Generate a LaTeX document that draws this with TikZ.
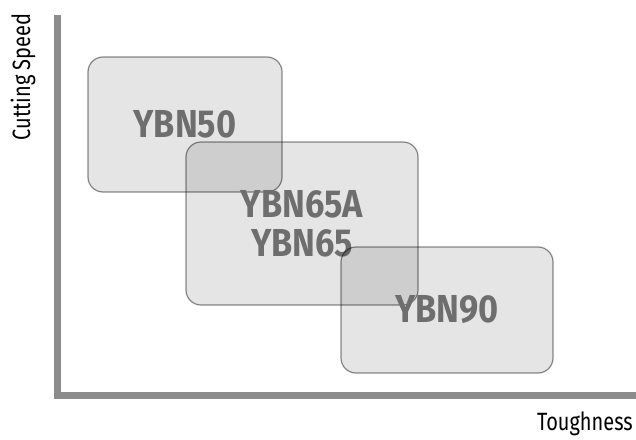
\documentclass[tikz,border=0pt]{standalone}
\usepackage{fontspec}
\setmainfont{Fira Sans}
\newfontfamily\axisfont[FakeStretch=0.8]{Fira Sans}
\newfontfamily\gradefont[FakeStretch=0.88]{Fira Sans}
\usepackage{tikz}
\usetikzlibrary{calc,positioning}

\tikzset{
  grade/.style={draw=black, draw opacity=0.45, fill=black, fill opacity=0.1,
    text opacity=1, text=black!57, rounded corners=15pt, line width=1.2pt,
    font=\gradefont\bfseries\fontsize{39}{39}\selectfont, align=center, inner sep=0pt},
  axisline/.style={draw=black!45, line width=7pt},
  axislabel/.style={font=\axisfont\fontsize{25}{25}\selectfont, inner sep=0pt}
}

\begin{document}
\begin{tikzpicture}[x=1pt,y=-1pt]
  \useasboundingbox (0,0) rectangle (636,439);
  % axes
  \coordinate (top) at (57.5,15);
  \coordinate (right) at (636,395.5);
  \draw[axisline] (top) |- (right);
  \node[axislabel, rotate=90] (speed) at (23,77) {Cutting Speed};
  \node[axislabel, anchor=east] (tough) at (633,424) {Toughness};
  % the grades
  \node[grade, minimum width=194pt, minimum height=135pt] (b50) at (185,124.5) {YBN50};
  \node[grade, minimum width=232pt, minimum height=163pt] (b65) at (302,223.5) {YBN65A\\YBN65};
  \node[grade, minimum width=212pt, minimum height=126pt] (b90) at (447,310) {YBN90};
\end{tikzpicture}
\end{document}
